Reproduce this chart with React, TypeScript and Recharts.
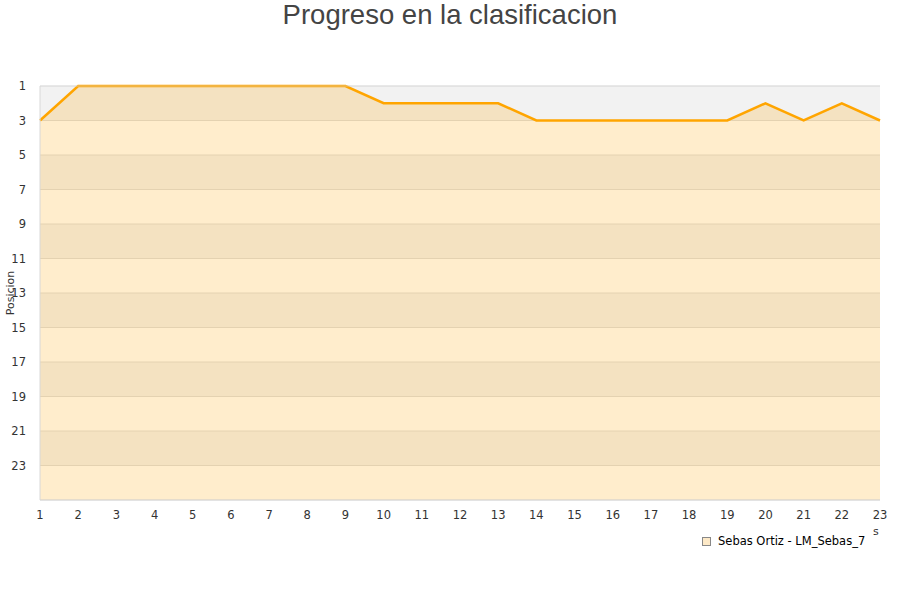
import React from 'react';
import { AreaChart, Area, XAxis, YAxis, CartesianGrid } from 'recharts';

const rounds = [1, 2, 3, 4, 5, 6, 7, 8, 9, 10, 11, 12, 13, 14, 15, 16, 17, 18, 19, 20, 21, 22, 23];
const positions = [3, 1, 1, 1, 1, 1, 1, 1, 1, 2, 2, 2, 2, 3, 3, 3, 3, 3, 3, 2, 3, 2, 3];
const yTicks = [1, 3, 5, 7, 9, 11, 13, 15, 17, 19, 21, 23];
const seriesName = 'Sebas Ortiz - LM_Sebas_7';
const title = 'Progreso en la clasificacion';
const yLabel = 'Posicion';

const data = rounds.map((r, i) => ({ round: r, pos: positions[i] }));

const FONT = 'DejaVu Sans, sans-serif';
const FS = 11.5;

export default function App() {
  return (
    <div style={{ position: 'absolute', left: 0, top: 0, width: 900, height: 600, background: '#fff' }}>
      <div style={{ position: 'absolute', left: 0, top: -1, width: 900, textAlign: 'center', fontFamily: 'Liberation Sans, Arial, sans-serif', fontSize: 27.5, color: '#444', lineHeight: '32px' }}>
        {title}
      </div>
      <AreaChart width={900} height={600} data={data} margin={{ top: 86, right: 20, bottom: 70, left: 0 }}>
        <CartesianGrid vertical={false} stroke="#dedede" horizontalFill={['#f2f2f2', '#ffffff']} fillOpacity={1} />
        <XAxis
          dataKey="round"
          type="number"
          domain={[1, 23]}
          ticks={rounds}
          interval={0}
          tickLine={false}
          axisLine={{ stroke: '#d8d8d8' }}
          height={30}
          tickMargin={5}
          tick={{ fontSize: FS, fill: '#333', fontFamily: FONT }}
        />
        <YAxis
          type="number"
          reversed
          domain={[1, 25]}
          ticks={yTicks}
          interval={0}
          width={40}
          tickLine={false}
          axisLine={{ stroke: '#d8d8d8' }}
          tickMargin={8}
          tick={{ fontSize: FS, fill: '#333', fontFamily: FONT }}
          label={{ value: yLabel, angle: -90, position: 'insideLeft', offset: 10, style: { fontSize: 11, fill: '#333', fontFamily: FONT, textAnchor: 'middle' } }}
        />
        <YAxis yAxisId="right" orientation="right" width={0} tick={false} tickLine={false} axisLine={{ stroke: '#d8d8d8' }} />
        <Area
          type="linear"
          dataKey="pos"
          baseValue={25}
          stroke="#ffa500"
          strokeWidth={2.5}
          fill="#ffa500"
          fillOpacity={0.2}
          isAnimationActive={false}
          dot={false}
          activeDot={false}
        />
      </AreaChart>
      <svg style={{ position: 'absolute', left: 0, top: 0 }} width={900} height={600} pointerEvents="none">
        <line x1={40} y1={86} x2={880} y2={86} stroke="#d8d8d8" strokeWidth={1} opacity={0.6} />
        <text x={873} y={535} fontSize={11} fill="#333" fontFamily={FONT}>s</text>
        <rect x={702.5} y={537.5} width={8} height={8} fill="#fde9c7" stroke="#888" strokeWidth={1} />
        <text x={718} y={545} fontSize={FS} fill="#000" fontFamily={FONT}>{seriesName}</text>
      </svg>
    </div>
  );
}
